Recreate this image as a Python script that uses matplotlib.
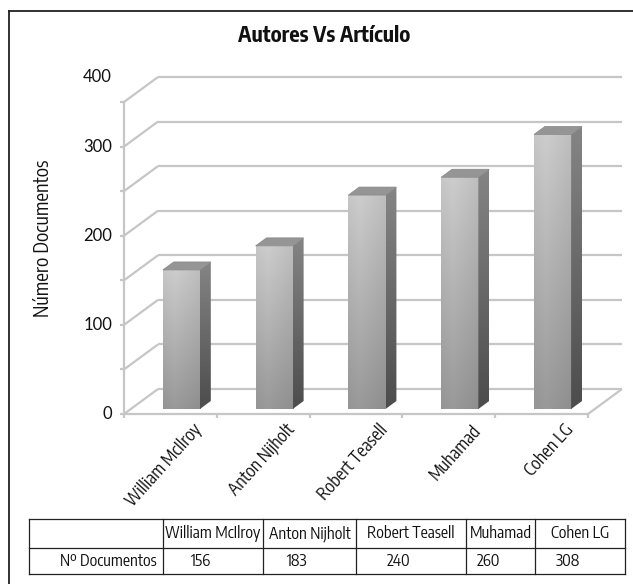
import numpy as np
import matplotlib
matplotlib.use('Agg')
import matplotlib.pyplot as plt
from matplotlib.patches import Polygon
from matplotlib.lines import Line2D

# Datos
autores = ['William McIlroy', 'Anton Nijholt', 'Robert Teasell', 'Muhamad', 'Cohen LG']
documentos = [156, 183, 240, 260, 308]
y_ticks = [0, 100, 200, 300]
y_top_label = '400'
y_max = 350
y_step = 50
titulo = 'Autores Vs Artículo'
eje_y = 'Número Documentos'
fila_tabla = 'Nº Documentos'

W, H = 633, 584
fig = plt.figure(figsize=(W / 100, H / 100), dpi=100)
fig.patch.set_facecolor('white')


def fx(px):
    return px / W


def fy(py):
    return 1 - py / H


NARROW = ['Encode Sans Condensed', 'Archivo Narrow', 'DejaVu Sans']
NUM = ['Lato', 'DejaVu Sans']

n = len(autores)
# pixel scale of the plotting box and 3D depth offset in data units
ppu_x = 92.8
ppu_y = 312 / y_max
DX = 34 / ppu_x
DY = 25 / ppu_y

ax = fig.add_axes([fx(124), fy(414), (622 - 124) / W, (414 - 77) / H])
ax.set_xlim(0, n + DX)
ax.set_ylim(0, y_max + DY)
ax.set_autoscale_on(False)
ax.axis('off')

grid_c = '#c6c6c6'
lk = dict(color=grid_c, lw=1.6, clip_on=False, solid_capstyle='butt', zorder=1)
for v in range(0, y_max + 1, y_step):
    ax.plot([DX, n + DX], [v + DY, v + DY], **lk)   # back wall
    ax.plot([0, DX], [v, v + DY], **lk)             # side wall
    ax.plot([-4 / ppu_x, 0], [v, v], **lk)          # tick
ax.plot([0, 0], [0, y_max], **lk)
ax.plot([0, n], [0, 0], **lk)
ax.plot([n, n + DX], [0, DY], **lk)
for i in range(n + 1):
    ax.plot([i, i], [0, -4 / ppu_y], **lk)

# bars (front face from ax.bar, side/top faces added as polygons)
bx0 = 0.345 + 0.2 * DX
bdx, bdy = 0.32 * DX, 0.32 * DY
bars = ax.bar(np.arange(n) + bx0, documentos, width=0.40, bottom=0.2 * DY,
              align='edge', color='none', edgecolor='none', zorder=3)

vert = np.linspace(0.60, 0.80, 80)[:, None]
horiz = np.concatenate([np.linspace(0.97, 1.0, 10), np.linspace(1.0, 0.93, 22)])[None, :]
front_img = vert * horiz
side_img = np.linspace(0.30, 0.52, 80)[:, None] * np.ones((1, 4))

for bar in bars:
    x0, b = bar.get_x(), bar.get_y()
    w, h = bar.get_width(), bar.get_height()
    x1 = x0 + w
    im = ax.imshow(front_img, cmap='gray', vmin=0, vmax=1, origin='lower',
                   extent=[x0, x1, b, b + h], aspect='auto', zorder=3,
                   interpolation='bilinear')
    im.set_clip_path(bar)

    side = Polygon([(x1, b), (x1 + bdx, b + bdy), (x1 + bdx, b + h + bdy), (x1, b + h)],
                   closed=True, facecolor='none', edgecolor='none', zorder=3)
    ax.add_patch(side)
    im2 = ax.imshow(side_img, cmap='gray', vmin=0, vmax=1, origin='lower',
                    extent=[x1, x1 + bdx, b, b + h + bdy], aspect='auto', zorder=3,
                    interpolation='bilinear')
    im2.set_clip_path(side)

    top = Polygon([(x0, b + h), (x1, b + h), (x1 + bdx, b + h + bdy), (x0 + bdx, b + h + bdy)],
                  closed=True, facecolor='#959595', edgecolor='#888888', lw=0.5, zorder=4)
    ax.add_patch(top)

# value axis labels
for v in y_ticks:
    ax.text(-12 / ppu_x, v, str(v), ha='right', va='center', fontsize=12,
            family=NUM, color='#111111')
ax.text(-12 / ppu_x, y_max + DY, y_top_label, ha='right', va='center', fontsize=12,
        family=NUM, color='#111111')

# category labels
for i, name in enumerate(autores):
    ax.text(i + 0.74, -8, name, rotation=48, ha='right', va='top',
            rotation_mode='anchor', fontsize=12.5, family=NARROW, color='#111111')

fig.text(fx(324.5), fy(42), titulo, ha='center', va='baseline', fontsize=15.5,
         fontweight='bold', family=NARROW, color='#111111')
fig.text(fx(43), fy(238), eje_y, rotation=90, ha='center', va='center',
         fontsize=14, family=NARROW, color='#111111')

# outer frame
fig.add_artist(Line2D([fx(8.5), fx(8.5)], [fy(10.5), 0], color='#222222', lw=1.3))
fig.add_artist(Line2D([fx(8.5), 1], [fy(10.5), fy(10.5)], color='#222222', lw=1.3))

# data table
cols = [29, 163, 263, 356, 466, 535, 625]
rows = [519, 548, 574]
for yy in rows:
    fig.add_artist(Line2D([fx(cols[0]), fx(cols[-1])], [fy(yy), fy(yy)],
                          color='#222222', lw=0.9))
for xx in cols:
    fig.add_artist(Line2D([fx(xx), fx(xx)], [fy(rows[0]), fy(rows[-1])],
                          color='#222222', lw=0.9))

yc_head = (rows[0] + rows[1]) / 2
yc_val = (rows[1] + rows[2]) / 2
fig.text(fx(cols[1] - 6), fy(yc_val), fila_tabla, ha='right', va='center',
         fontsize=11.5, family=NARROW, color='#111111')
for i, (name, val) in enumerate(zip(autores, documentos)):
    xc = (cols[i + 1] + cols[i + 2]) / 2
    fig.text(fx(xc), fy(yc_head), name, ha='center', va='center',
             fontsize=11.5, family=NARROW, color='#111111')
    fig.text(fx(xc - 12), fy(yc_val), str(val), ha='center', va='center',
             fontsize=11.5, family=NARROW, color='#111111')

fig.savefig('out.png', dpi=100)
